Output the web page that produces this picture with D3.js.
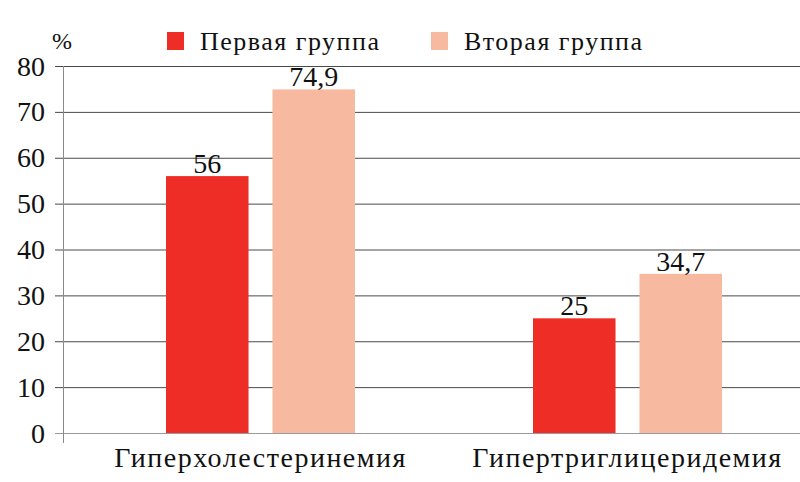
<!DOCTYPE html>
<html>
<head>
<meta charset="utf-8">
<script src="https://cdn.jsdelivr.net/npm/d3@7"></script>
<style>
  body { margin: 0; background: #fff; }
  svg { display: block; }
</style>
</head>
<body>
<script>
// Data
var categories = ["Гиперхолестеринемия", "Гипертриглицеридемия"];
var seriesNames = ["Первая группа", "Вторая группа"];
var firstGroup = [56, 25];
var secondGroup = [74.9, 34.7];
var valueLabels = [["56", "25"], ["74,9", "34,7"]];
var yTicks = [0, 10, 20, 30, 40, 50, 60, 70, 80];

var colors = ["#ee2d27", "#f8b9a1"];
var width = 800, height = 482;
var font = "Liberation Serif, DejaVu Serif, Liberation Sans, sans-serif";

var svg = d3.select("body").append("svg")
    .attr("width", width)
    .attr("height", height)
    .attr("font-family", font);

// Scales
var y = d3.scaleLinear().domain([0, 80]).range([433, 66]);
var x0 = d3.scaleBand().domain(categories).range([77, 811]);
var x1 = d3.scaleBand().domain(seriesNames)
    .range([0, x0.bandwidth()])
    .paddingInner(0.225)
    .paddingOuter(0.836);

// Grid lines
svg.append("g")
  .selectAll("line")
  .data(yTicks.filter(function(d) { return d > 0; }))
  .enter().append("line")
    .attr("x1", 55)
    .attr("x2", width)
    .attr("y1", function(d) { return y(d) + 0.5; })
    .attr("y2", function(d) { return y(d) + 0.5; })
    .attr("stroke", "#4a4a4a")
    .attr("stroke-width", 1);

// Baseline
svg.append("line")
    .attr("x1", 55).attr("x2", width)
    .attr("y1", y(0) + 0.5).attr("y2", y(0) + 0.5)
    .attr("stroke", "#9a9a9a");

// Y axis line
svg.append("line")
    .attr("x1", 63.5).attr("x2", 63.5)
    .attr("y1", y(80)).attr("y2", y(0) + 10)
    .attr("stroke", "#8a8a8a");

// Y tick labels
svg.append("g")
  .selectAll("text")
  .data(yTicks)
  .enter().append("text")
    .attr("x", 45)
    .attr("y", function(d) { return y(d); })
    .attr("dy", "0.34em")
    .attr("text-anchor", "end")
    .attr("font-size", 28)
    .attr("fill", "#111")
    .text(function(d) { return d; });

svg.append("text")
    .attr("x", 52).attr("y", 49)
    .attr("font-size", 24)
    .attr("fill", "#111")
    .text("%");

// Bars
var seriesData = [firstGroup, secondGroup];
seriesNames.forEach(function(s, si) {
  var g = svg.append("g");
  g.selectAll("rect")
    .data(categories)
    .enter().append("rect")
      .attr("x", function(c) { return x0(c) + x1(s); })
      .attr("y", function(c, i) { return y(seriesData[si][i]); })
      .attr("width", x1.bandwidth())
      .attr("height", function(c, i) { return y(0) - y(seriesData[si][i]); })
      .attr("fill", colors[si]);

  g.selectAll("text")
    .data(categories)
    .enter().append("text")
      .attr("x", function(c) { return x0(c) + x1(s) + x1.bandwidth() / 2; })
      .attr("y", function(c, i) { return y(seriesData[si][i]) - 3; })
      .attr("text-anchor", "middle")
      .attr("font-size", 28)
      .attr("fill", "#111")
      .text(function(c, i) { return valueLabels[si][i]; });
});

// Category labels
svg.append("g")
  .selectAll("text")
  .data(categories)
  .enter().append("text")
    .attr("x", function(c) { return x0(c) + x0.bandwidth() / 2; })
    .attr("y", 467)
    .attr("text-anchor", "middle")
    .attr("font-size", 28)
    .attr("letter-spacing", 1.5)
    .attr("fill", "#111")
    .text(function(c) { return c; });

// Legend
var legendX = [167, 431];
var legend = svg.append("g")
  .selectAll("g")
  .data(seriesNames)
  .enter().append("g")
    .attr("transform", function(d, i) { return "translate(" + legendX[i] + ",32)"; });

legend.append("rect")
    .attr("width", 17).attr("height", 18)
    .attr("fill", function(d, i) { return colors[i]; });

legend.append("text")
    .attr("x", 33).attr("y", 18)
    .attr("font-size", 26)
    .attr("letter-spacing", 1.5)
    .attr("fill", "#111")
    .text(function(d) { return d; });
</script>
</body>
</html>
